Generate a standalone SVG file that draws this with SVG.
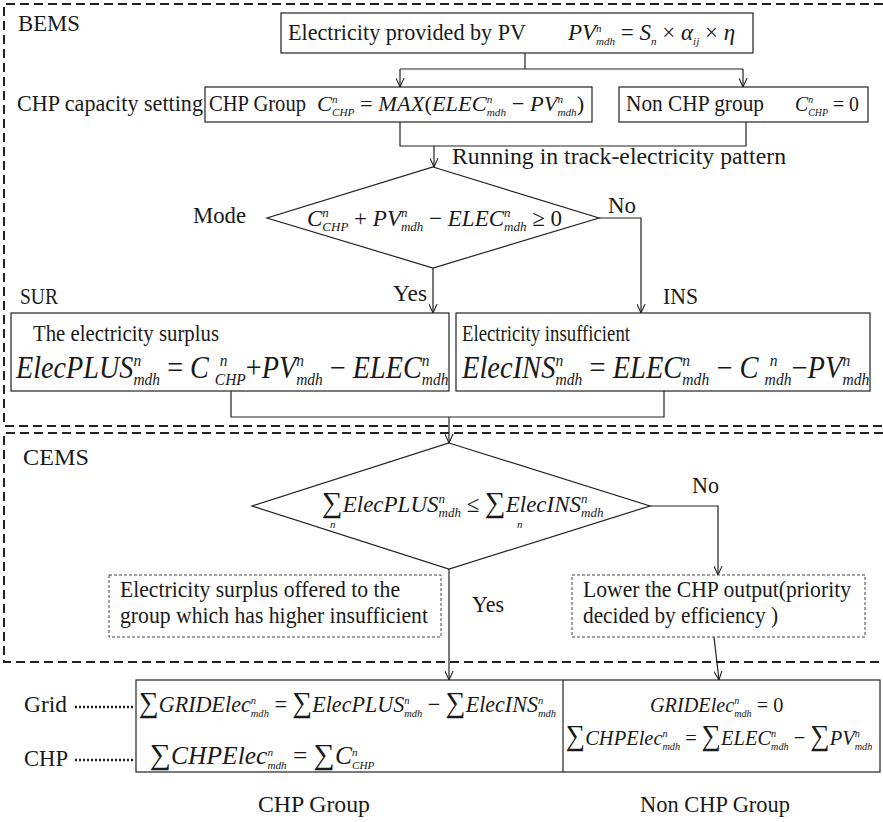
<svg xmlns="http://www.w3.org/2000/svg" width="883" height="822" viewBox="0 0 883 822">
  <style>
    text { font-family: "Liberation Serif", "Times New Roman", serif; fill: #1a1a1a; }
    .lbl { font-size: 23px; }
    .m { font-style: italic; }
    .u { font-style: normal; }
    .s { font-size: 11px; }
    .s2 { font-size: 13px; }
    .s3 { font-size: 17px; }
    .box { fill: #fff; stroke: #222; stroke-width: 1.2; }
    .dot { fill: none; stroke: #444; stroke-width: 1; stroke-dasharray: 3 2; }
    .zone { fill: none; stroke: #222; stroke-width: 2; stroke-dasharray: 9 5; }
    .sig { font-style: normal; font-size: 29px; }
  </style>
  <defs>
    <marker id="ah" viewBox="0 0 10 10" refX="10" refY="5" markerWidth="9" markerHeight="9" markerUnits="userSpaceOnUse" orient="auto">
      <path d="M0,0.5 L10,5 L0,9.5" fill="none" stroke="#222" stroke-width="1.2"/>
    </marker>
  </defs>

  <!-- management zones -->
  <g id="bems">
    <path class="zone" d="M883,4 H4 V426 H883"/>
    <text class="lbl" x="18" y="31" textLength="62" lengthAdjust="spacingAndGlyphs">BEMS</text>
  </g>
  <g id="cems">
    <path class="zone" d="M883,433 H4 V662 H883"/>
    <text class="lbl" x="23" y="465" textLength="66" lengthAdjust="spacingAndGlyphs">CEMS</text>
  </g>

  <!-- connectors -->
  <g id="connectors" fill="none" stroke="#222" stroke-width="1.2">
    <path d="M525,53 V69"/>
    <path d="M400,69 H743"/>
    <path d="M400,69 V87" marker-end="url(#ah)"/>
    <path d="M743,69 V87" marker-end="url(#ah)"/>
    <path d="M400,122 V146 H746 V122"/>
    <path d="M434,146 V167" marker-end="url(#ah)"/>
    <path d="M599,218 H641 V313" marker-end="url(#ah)"/>
    <path d="M433,268 V313" marker-end="url(#ah)"/>
    <path d="M231,391 V417 H664 V391"/>
    <path d="M449,417 V443" marker-end="url(#ah)"/>
    <path d="M650,506 H718 V575" marker-end="url(#ah)"/>
    <path d="M449,569 V680" marker-end="url(#ah)"/>
    <path d="M714,637 L719,680" marker-end="url(#ah)"/>
    <path d="M75,707 H133 M75,760 H133" stroke-width="2.5" stroke-dasharray="2 2"/>
  </g>

  <!-- PV supply -->
  <g id="pv">
    <rect class="box" x="281" y="13" width="472" height="40"/>
    <text class="lbl" x="288" y="40" textLength="238" lengthAdjust="spacingAndGlyphs">Electricity provided by PV</text>
    <text class="m" font-size="23" transform="translate(568,40)">PV<tspan class="s" dy="-8">n</tspan><tspan class="s" dx="-5.5" dy="13">mdh</tspan><tspan class="u" dy="-5"> = </tspan>S<tspan class="s" dy="5">n</tspan><tspan class="u" dy="-5"> × </tspan>α<tspan class="s" dy="5">ij</tspan><tspan class="u" dy="-5"> × </tspan>η</text>
  </g>

  <text id="capacity-label" class="lbl" x="17" y="111" textLength="186" lengthAdjust="spacingAndGlyphs">CHP capacity setting</text>

  <g id="chp-group">
    <rect class="box" x="205" y="87" width="387" height="35"/>
    <text class="lbl" x="209" y="111" textLength="97" lengthAdjust="spacingAndGlyphs">CHP Group</text>
    <text class="m" font-size="22" transform="translate(317,111) scale(1.02,1)">C<tspan class="s" dy="-8">n</tspan><tspan class="s" dx="-5.5" dy="13">CHP</tspan><tspan class="u" dy="-5"> = </tspan>MAX<tspan class="u">(</tspan>ELEC<tspan class="s" dy="-8">n</tspan><tspan class="s" dx="-5.5" dy="13">mdh</tspan><tspan class="u" dy="-5"> − </tspan>PV<tspan class="s" dy="-8">n</tspan><tspan class="s" dx="-5.5" dy="13">mdh</tspan><tspan class="u" dy="-5">)</tspan></text>
  </g>

  <g id="non-chp-group">
    <rect class="box" x="619" y="87" width="249" height="35"/>
    <text class="lbl" x="626" y="111" textLength="138" lengthAdjust="spacingAndGlyphs">Non CHP group</text>
    <text class="m" font-size="22" transform="translate(795,111) scale(0.9,1)">C<tspan class="s" dy="-8">n</tspan><tspan class="s" dx="-5.5" dy="13">CHP</tspan><tspan class="u" dy="-5"> = 0</tspan></text>
  </g>

  <text id="running-label" class="lbl" x="452" y="164" textLength="334" lengthAdjust="spacingAndGlyphs">Running in track-electricity pattern</text>

  <g id="mode">
    <polygon class="box" points="433,167 599,218 433,268 267,218"/>
    <text class="lbl" x="193" y="223" textLength="53" lengthAdjust="spacingAndGlyphs">Mode</text>
    <text class="m" font-size="23" transform="translate(307,226)">C<tspan class="s2" dy="-9">n</tspan><tspan class="s2" dx="-6.5" dy="14">CHP</tspan><tspan class="u" dy="-5"> + </tspan>PV<tspan class="s2" dy="-9">n</tspan><tspan class="s2" dx="-6.5" dy="14">mdh</tspan><tspan class="u" dy="-5"> − </tspan>ELEC<tspan class="s2" dy="-9">n</tspan><tspan class="s2" dx="-6.5" dy="14">mdh</tspan><tspan class="u" dy="-5"> ≥ 0</tspan></text>
    <text class="lbl" x="608" y="213" textLength="28" lengthAdjust="spacingAndGlyphs">No</text>
    <text class="lbl" x="393" y="301" textLength="34" lengthAdjust="spacingAndGlyphs">Yes</text>
  </g>

  <g id="surplus">
    <text class="lbl" x="20" y="304" textLength="38" lengthAdjust="spacingAndGlyphs">SUR</text>
    <rect class="box" x="11" y="313" width="438" height="78"/>
    <text class="lbl" x="33" y="341" textLength="186" lengthAdjust="spacingAndGlyphs">The electricity surplus</text>
    <text class="m" font-size="31" transform="translate(16,378) scale(0.91,1)">ElecPLUS<tspan class="s3" dy="-12">n</tspan><tspan class="s3" dx="-8.5" dy="19">mdh</tspan><tspan class="u" dy="-7"> = </tspan>C<tspan class="s3" dx="12" dy="-12">n</tspan><tspan class="s3" dx="-14" dy="19">CHP</tspan><tspan class="u" dy="-7">+</tspan>PV<tspan class="s3" dy="-12">n</tspan><tspan class="s3" dx="-8.5" dy="19">mdh</tspan><tspan class="u" dy="-7"> − </tspan>ELEC<tspan class="s3" dy="-12">n</tspan><tspan class="s3" dx="-8.5" dy="19">mdh</tspan></text>
  </g>

  <g id="insufficient">
    <text class="lbl" x="663" y="304" textLength="35" lengthAdjust="spacingAndGlyphs">INS</text>
    <rect class="box" x="456" y="313" width="414" height="78"/>
    <text class="lbl" x="462" y="341" textLength="168" lengthAdjust="spacingAndGlyphs">Electricity insufficient</text>
    <text class="m" font-size="31" transform="translate(462,378) scale(0.92,1)">ElecINS<tspan class="s3" dy="-12">n</tspan><tspan class="s3" dx="-8.5" dy="19">mdh</tspan><tspan class="u" dy="-7"> = </tspan>ELEC<tspan class="s3" dy="-12">n</tspan><tspan class="s3" dx="-8.5" dy="19">mdh</tspan><tspan class="u" dy="-7"> − </tspan>C<tspan class="s3" dx="12" dy="-12">n</tspan><tspan class="s3" dx="-14" dy="19">mdh</tspan><tspan class="u" dy="-7">−</tspan>PV<tspan class="s3" dy="-12">n</tspan><tspan class="s3" dx="-8.5" dy="19">mdh</tspan></text>
  </g>

  <g id="balance">
    <polygon class="box" points="449,443 650,506 449,569 252,506"/>
    <text class="m" font-size="23" transform="translate(322,512)"><tspan class="sig">∑</tspan>ElecPLUS<tspan class="s2" dy="-9">n</tspan><tspan class="s2" dx="-6.5" dy="14">mdh</tspan><tspan class="u" dy="-5"> ≤ </tspan><tspan class="sig">∑</tspan>ElecINS<tspan class="s2" dy="-9">n</tspan><tspan class="s2" dx="-6.5" dy="14">mdh</tspan></text>
    <text class="m s" x="330" y="528">n</text>
    <text class="m s" x="517" y="528">n</text>
    <text class="lbl" x="692" y="493" textLength="27" lengthAdjust="spacingAndGlyphs">No</text>
    <text class="lbl" x="472" y="612" textLength="32" lengthAdjust="spacingAndGlyphs">Yes</text>
  </g>

  <g id="offer-surplus">
    <rect class="dot" x="109" y="575" width="332" height="62"/>
    <text class="lbl" x="120" y="597" textLength="280" lengthAdjust="spacingAndGlyphs">Electricity surplus offered to the</text>
    <text class="lbl" x="120" y="623" textLength="308" lengthAdjust="spacingAndGlyphs">group which has higher insufficient</text>
  </g>

  <g id="lower-output">
    <rect class="dot" x="572" y="575" width="293" height="62"/>
    <text class="lbl" x="583" y="597" textLength="268" lengthAdjust="spacingAndGlyphs">Lower the CHP output(priority</text>
    <text class="lbl" x="583" y="623" textLength="195" lengthAdjust="spacingAndGlyphs">decided by efficiency )</text>
  </g>

  <g id="result-table">
    <rect class="box" x="136" y="680" width="744" height="92"/>
    <path d="M563,680 V772" stroke="#222" stroke-width="1.2"/>
    <text class="lbl" x="24" y="712" textLength="43" lengthAdjust="spacingAndGlyphs">Grid</text>
    <text class="lbl" x="24" y="766" textLength="44" lengthAdjust="spacingAndGlyphs">CHP</text>
    <text class="m" font-size="23" transform="translate(139,712) scale(0.96,1)"><tspan class="sig">∑</tspan>GRIDElec<tspan class="s" dy="-8">n</tspan><tspan class="s" dx="-5.5" dy="13">mdh</tspan><tspan class="u" dy="-5"> = </tspan><tspan class="sig">∑</tspan>ElecPLUS<tspan class="s" dy="-8">n</tspan><tspan class="s" dx="-5.5" dy="13">mdh</tspan><tspan class="u" dy="-5"> − </tspan><tspan class="sig">∑</tspan>ElecINS<tspan class="s" dy="-8">n</tspan><tspan class="s" dx="-5.5" dy="13">mdh</tspan></text>
    <text class="m" font-size="25" transform="translate(150,764) scale(1.02,1)"><tspan class="sig">∑</tspan>CHPElec<tspan class="s" dy="-8">n</tspan><tspan class="s" dx="-5.5" dy="13">mdh</tspan><tspan class="u" dy="-5"> = </tspan><tspan class="sig">∑</tspan>C<tspan class="s" dy="-8">n</tspan><tspan class="s" dx="-5.5" dy="13">CHP</tspan></text>
    <text class="m" font-size="22" transform="translate(650,712) scale(0.92,1)">GRIDElec<tspan class="s" dy="-8">n</tspan><tspan class="s" dx="-5.5" dy="13">mdh</tspan><tspan class="u" dy="-5"> = 0</tspan></text>
    <text class="m" font-size="22" transform="translate(566,745) scale(0.93,1)"><tspan class="sig">∑</tspan>CHPElec<tspan class="s" dy="-8">n</tspan><tspan class="s" dx="-5.5" dy="13">mdh</tspan><tspan class="u" dy="-5"> = </tspan><tspan class="sig">∑</tspan>ELEC<tspan class="s" dy="-8">n</tspan><tspan class="s" dx="-5.5" dy="13">mdh</tspan><tspan class="u" dy="-5"> − </tspan><tspan class="sig">∑</tspan>PV<tspan class="s" dy="-8">n</tspan><tspan class="s" dx="-5.5" dy="13">mdh</tspan></text>
    <text class="lbl" x="258" y="812" textLength="112" lengthAdjust="spacingAndGlyphs">CHP Group</text>
    <text class="lbl" x="640" y="812" textLength="150" lengthAdjust="spacingAndGlyphs">Non CHP Group</text>
  </g>
</svg>
